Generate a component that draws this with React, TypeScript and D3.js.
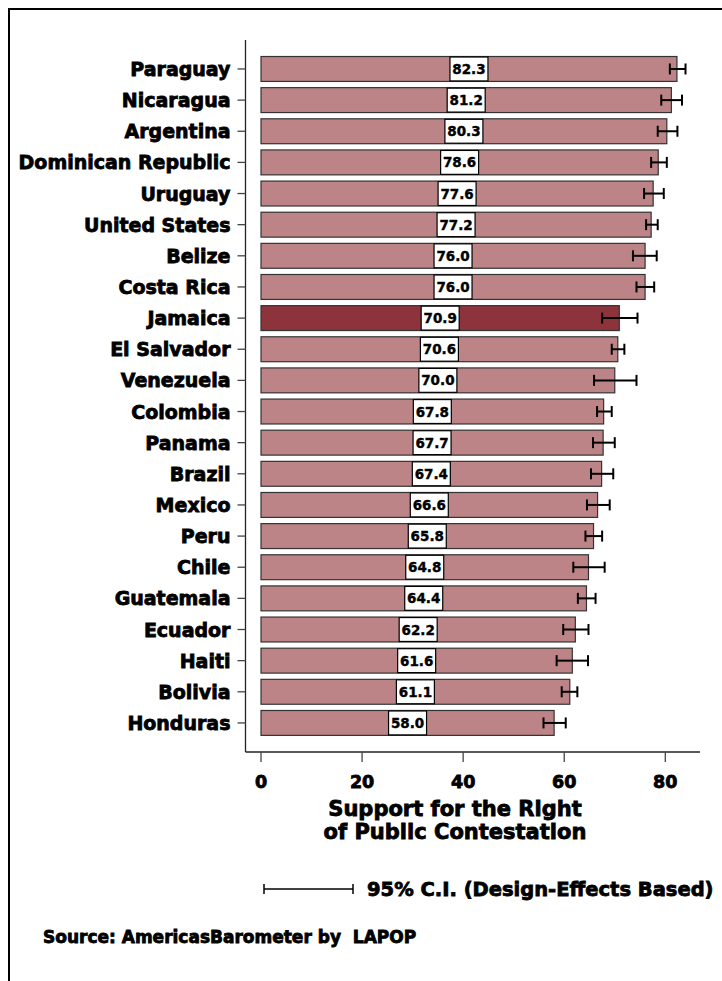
import React from "react";
import * as d3 from "d3";

const countries = [
  "Paraguay", "Nicaragua", "Argentina", "Dominican Republic", "Uruguay",
  "United States", "Belize", "Costa Rica", "Jamaica", "El Salvador",
  "Venezuela", "Colombia", "Panama", "Brazil", "Mexico", "Peru", "Chile",
  "Guatemala", "Ecuador", "Haiti", "Bolivia", "Honduras",
];
const values = [82.3, 81.2, 80.3, 78.6, 77.6, 77.2, 76.0, 76.0, 70.9, 70.6, 70.0, 67.8, 67.7, 67.4, 66.6, 65.8, 64.8, 64.4, 62.2, 61.6, 61.1, 58.0];
const ciLow = [80.9, 79.2, 78.5, 77.2, 75.8, 76.2, 73.6, 74.3, 67.5, 69.4, 65.9, 66.5, 65.7, 65.3, 64.5, 64.2, 61.8, 62.7, 59.8, 58.5, 59.5, 55.9];
const ciHigh = [84.0, 83.3, 82.4, 80.3, 79.7, 78.5, 78.3, 77.8, 74.5, 71.9, 74.3, 69.4, 70.0, 69.7, 69.0, 67.5, 68.0, 66.2, 64.8, 64.7, 62.6, 60.3];
const highlight = "Jamaica";
const xTicks = [0, 20, 40, 60, 80];
const titleLines = ["Support for the Right", "of Public Contestation"];
const legendText = "95% C.I. (Design-Effects Based)";
const sourceText = "Source: AmericasBarometer by  LAPOP";

const W = 722;
const H = 981;
const heavy = "'DejaVu Sans', sans-serif";

export default function App() {
  const x = d3.scaleLinear().domain([0, 80]).range([261, 665.3]);
  const y = d3.scaleBand<string>().domain(countries).range([53.4, 738.5]).paddingInner(0.2).paddingOuter(0.1);
  const bw = y.bandwidth();
  const axisX = 245.5;
  const axisY = 752;
  const capH = 11;
  const thick = { stroke: "#000", strokeWidth: 0.8, paintOrder: "stroke" } as any;

  return (
    <svg width={W} height={H} style={{ position: "absolute", left: 0, top: 0 }}>
      <rect x={0} y={0} width={W} height={H} fill="#fff" />
      <path d={`M9,${H + 5} L9,9 L${W + 5},9`} fill="none" stroke="#000" strokeWidth={2} />

      <line x1={axisX} x2={axisX} y1={40} y2={axisY} stroke="#222" strokeWidth={1.3} />
      {countries.map((c) => {
        const cy = (y(c) as number) + bw / 2;
        return (
          <g key={"yl" + c}>
            <line x1={axisX - 8} x2={axisX} y1={cy} y2={cy} stroke="#444" strokeWidth={1.3} />
            <text x={axisX - 15} y={cy} dy="0.37em" textAnchor="end" fontFamily={heavy} fontWeight={700} fontSize={19} fill="#000" {...thick}>
              {c}
            </text>
          </g>
        );
      })}

      <line x1={axisX} x2={700} y1={axisY} y2={axisY} stroke="#222" strokeWidth={1.3} />
      {xTicks.map((t) => (
        <g key={"xt" + t}>
          <line x1={x(t)} x2={x(t)} y1={axisY} y2={axisY + 10} stroke="#444" strokeWidth={1.3} />
          <text x={x(t)} y={axisY + 30} dy="0.37em" textAnchor="middle" fontFamily={heavy} fontWeight={700} fontSize={17.5} fill="#000" {...thick}>
            {t}
          </text>
        </g>
      ))}

      {countries.map((c, i) => {
        const top = y(c) as number;
        const cy = top + bw / 2;
        const v = values[i];
        const mid = x(v / 2);
        return (
          <g key={"b" + c}>
            <rect x={x(0)} y={top} width={x(v) - x(0)} height={bw}
              fill={c === highlight ? "#8c333c" : "#bc8486"} stroke="#333" strokeWidth={1.2} />
            <rect x={mid - 19} y={top + 0.5} width={38} height={bw - 1} fill="#fff" stroke="#000" strokeWidth={1.2} />
            <text x={mid} y={cy} dy="0.37em" textAnchor="middle" fontFamily={heavy} fontWeight={700} fontSize={13.5} fill="#000" stroke="#000" strokeWidth={0.4}>
              {v.toFixed(1)}
            </text>
            <g stroke="#000" strokeWidth={2}>
              <line x1={x(ciLow[i])} x2={x(ciHigh[i])} y1={cy} y2={cy} />
              <line x1={x(ciLow[i])} x2={x(ciLow[i])} y1={cy - capH / 2} y2={cy + capH / 2} />
              <line x1={x(ciHigh[i])} x2={x(ciHigh[i])} y1={cy - capH / 2} y2={cy + capH / 2} />
            </g>
          </g>
        );
      })}

      {titleLines.map((t, i) => (
        <text key={"tt" + i} x={455} y={816 + i * 23} textAnchor="middle" fontFamily={heavy} fontWeight={700} fontSize={21} fill="#000" {...thick}>
          {t}
        </text>
      ))}

      <g stroke="#000" strokeWidth={1.5}>
        <line x1={264} x2={353} y1={889} y2={889} />
        <line x1={264} x2={264} y1={884} y2={894} />
        <line x1={353} x2={353} y1={884} y2={894} />
      </g>
      <text x={367} y={896} fontFamily={heavy} fontWeight={700} fontSize={19.5} fill="#000" {...thick}>{legendText}</text>

      <text x={43} y={943} fontFamily={heavy} fontWeight={700} fontSize={17} fill="#000" style={{ whiteSpace: "pre" }} {...thick}>{sourceText}</text>
    </svg>
  );
}
